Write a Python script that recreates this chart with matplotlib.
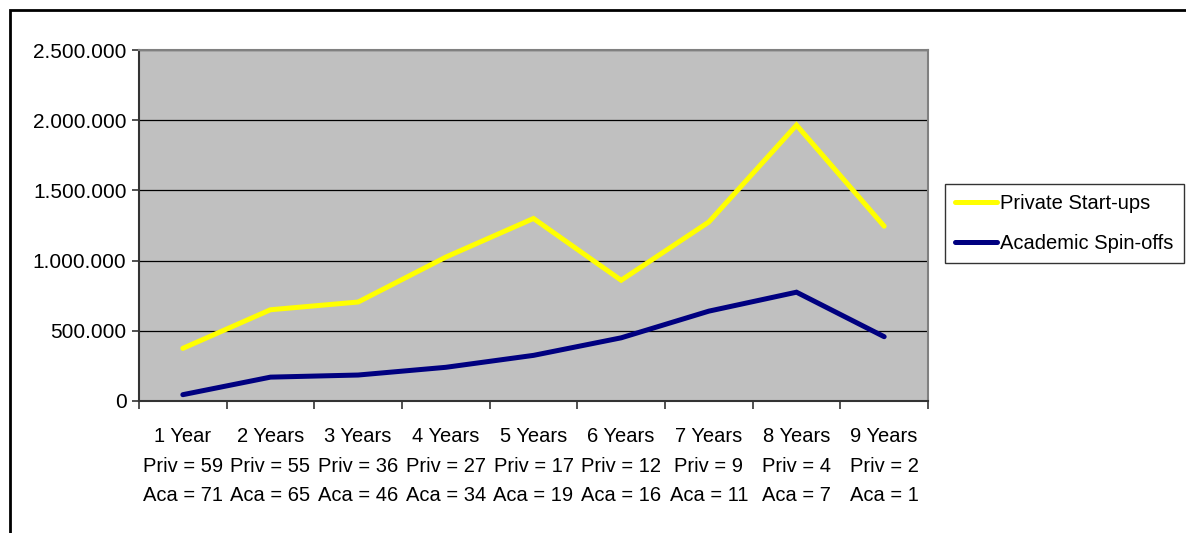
import matplotlib.pyplot as plt
import numpy as np
from matplotlib.patches import Rectangle
from matplotlib.ticker import FuncFormatter

plt.rcParams['font.family'] = ['Liberation Sans', 'DejaVu Sans']

years = ['1 Year', '2 Years', '3 Years', '4 Years', '5 Years',
         '6 Years', '7 Years', '8 Years', '9 Years']
n_priv = [59, 55, 36, 27, 17, 12, 9, 4, 2]
n_aca = [71, 65, 46, 34, 19, 16, 11, 7, 1]
private_startups = [375000, 650000, 705000, 1025000, 1300000, 860000, 1275000, 1965000, 1245000]
academic_spinoffs = [45000, 170000, 185000, 240000, 325000, 450000, 640000, 775000, 458000]

fs = 14.5

fig = plt.figure(figsize=(11.86, 5.33), dpi=100)
# outer chart border (runs off right/bottom edges)
fig.patches.append(Rectangle((10 / 1186, -0.05), 1.2, (533 - 10) / 533 + 0.05,
                             transform=fig.transFigure, fill=False,
                             edgecolor='black', linewidth=2, zorder=0))

ax = fig.add_axes([139 / 1186, 132 / 533, 789 / 1186, 351 / 533])
ax.set_facecolor('#c0c0c0')

x = np.arange(len(years))
ax.plot(x, private_startups, color='#ffff00', lw=3.6, label='Private Start-ups',
        solid_capstyle='round', solid_joinstyle='miter', zorder=3)
ax.plot(x, academic_spinoffs, color='#000080', lw=3.6, label='Academic Spin-offs',
        solid_capstyle='round', solid_joinstyle='miter', zorder=3)

ax.set_xlim(-0.5, len(years) - 0.5)
ax.set_ylim(0, 2500000)
ax.set_yticks(np.arange(0, 2500001, 500000))
ax.yaxis.set_major_formatter(FuncFormatter(lambda v, p: '{:,.0f}'.format(v).replace(',', '.')))
ax.grid(axis='y', color='black', lw=0.9, zorder=1)
ax.set_axisbelow(True)

labels = ['{}\nPriv = {}\nAca = {}'.format(y, p, a) for y, p, a in zip(years, n_priv, n_aca)]
ax.set_xticks(x)
ax.set_xticklabels(labels, linespacing=1.7)
ax.set_xticks(np.arange(-0.5, len(years)), minor=True)
ax.tick_params(axis='x', which='major', length=0, pad=19, labelsize=fs)
ax.tick_params(axis='x', which='minor', length=6, width=1.2, color='#333333', direction='out')
ax.tick_params(axis='y', length=5, width=1.2, color='#333333', labelsize=15, pad=4)

for side in ['left', 'bottom']:
    ax.spines[side].set_color('#333333')
    ax.spines[side].set_linewidth(1.5)
for side in ['top', 'right']:
    ax.spines[side].set_color('#808080')
    ax.spines[side].set_linewidth(1.5)

leg = ax.legend(loc='upper left', bbox_to_anchor=(945 / 1186, (533 - 184) / 533),
                bbox_transform=fig.transFigure, frameon=True, fancybox=False,
                fontsize=14.5, handlelength=2.1, handletextpad=0.15,
                borderpad=0.5, labelspacing=1.05, borderaxespad=0)
leg.get_frame().set_edgecolor('black')
leg.get_frame().set_linewidth(1)

fig.savefig('out.png', dpi=100)
